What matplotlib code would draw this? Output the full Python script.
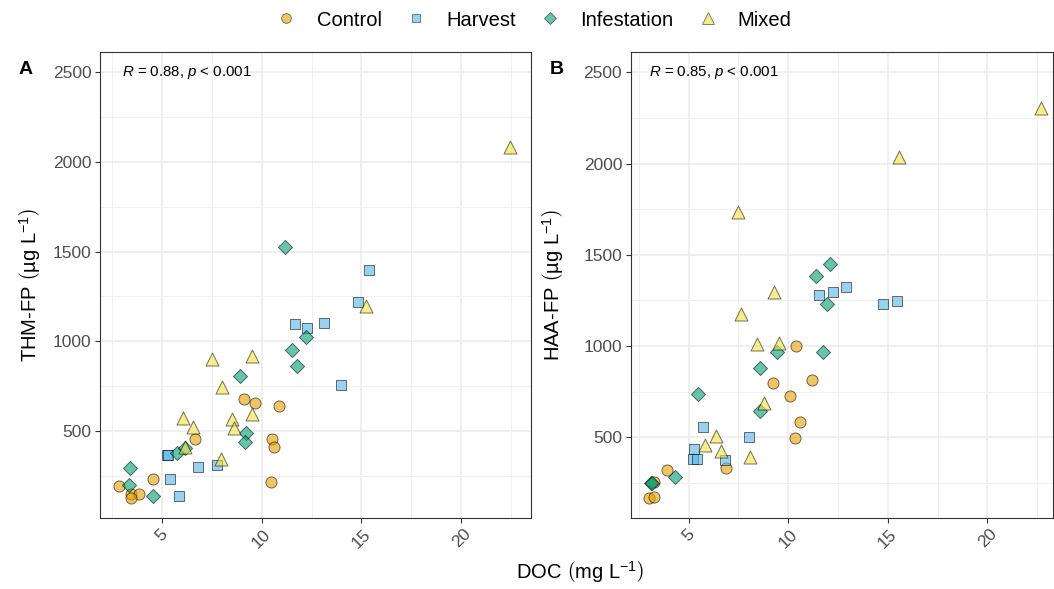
import numpy as np
import matplotlib
matplotlib.use("Agg")
import matplotlib.pyplot as plt
from matplotlib.ticker import MultipleLocator
from matplotlib.lines import Line2D

plt.rcParams['font.family'] = ['Liberation Sans', 'DejaVu Sans']
plt.rcParams['mathtext.fontset'] = 'custom'
plt.rcParams['mathtext.rm'] = 'Liberation Sans'
plt.rcParams['mathtext.it'] = 'Liberation Sans:italic'

# ---------------- data ----------------
groups = ["Control", "Harvest", "Infestation", "Mixed"]
colors = {"Control": "#E69F00", "Harvest": "#56B4E9",
          "Infestation": "#009E73", "Mixed": "#F0E442"}
markers = {"Control": "o", "Harvest": "s", "Infestation": "D", "Mixed": "^"}
sizes = {"Control": 64, "Harvest": 50, "Infestation": 52, "Mixed": 88}

# panel A: DOC vs THM-FP
thm_doc = {
    "Control": [9.10, 9.68, 10.86, 6.68, 10.53, 10.60, 10.46, 4.55, 2.89, 3.45, 3.89, 3.45],
    "Harvest": [15.40, 14.85, 11.68, 12.29, 13.15, 14.00, 5.26, 5.32, 6.81, 7.76, 5.40, 5.85],
    "Infestation": [11.16, 12.24, 11.54, 11.76, 8.92, 9.20, 9.15, 5.78, 6.18, 3.40, 3.35, 4.58],
    "Mixed": [22.44, 15.21, 7.54, 9.50, 8.02, 6.05, 6.58, 8.54, 8.62, 9.51, 6.16, 7.96],
}
thm_val = {
    "Control": [679, 657, 640, 454, 454, 413, 214, 231, 196, 149, 149, 125],
    "Harvest": [1396, 1219, 1096, 1074, 1103, 757, 367, 365, 301, 308, 231, 140],
    "Infestation": [1524, 1025, 950, 863, 804, 491, 441, 376, 404, 296, 200, 135],
    "Mixed": [2082, 1197, 900, 919, 748, 571, 525, 566, 519, 595, 410, 345],
}

# panel B: DOC vs HAA-FP
haa_doc = {
    "Control": [10.39, 9.24, 11.18, 10.10, 10.60, 10.35, 6.89, 3.93, 3.26, 3.03, 3.26],
    "Harvest": [11.55, 12.23, 12.89, 14.74, 15.45, 5.72, 8.03, 5.27, 5.23, 5.43, 6.82],
    "Infestation": [12.10, 11.40, 11.97, 9.42, 11.75, 8.58, 5.45, 8.60, 4.30, 3.09, 3.15],
    "Mixed": [22.70, 15.55, 7.50, 9.30, 7.61, 8.43, 9.52, 8.77, 6.37, 5.80, 6.61, 8.10],
}
haa_val = {
    "Control": [1002, 799, 814, 726, 585, 498, 334, 319, 255, 166, 173],
    "Harvest": [1281, 1294, 1321, 1230, 1246, 555, 502, 438, 381, 383, 374],
    "Infestation": [1452, 1384, 1229, 970, 966, 882, 738, 645, 282, 248, 252],
    "Mixed": [2303, 2038, 1733, 1296, 1174, 1011, 1019, 690, 508, 458, 427, 391],
}

stats = ["$\\it{R}$ = 0.88, $\\it{p}$ < 0.001", "$\\it{R}$ = 0.85, $\\it{p}$ < 0.001"]
ylabels = ["THM-FP $\\left(\\mathrm{µg\\ L^{-1}}\\right)$",
           "HAA-FP $\\left(\\mathrm{µg\\ L^{-1}}\\right)$"]
xlabel = "DOC $\\left(\\mathrm{mg\\ L^{-1}}\\right)$"
panel_tags = ["A", "B"]


def rgba(hexc, a):
    c = matplotlib.colors.to_rgba(hexc)
    return (c[0], c[1], c[2], a)


W, H = 1054, 589
fig = plt.figure(figsize=(W / 100, H / 100), dpi=100)

axA = fig.add_axes([100 / W, 1 - 518 / H, 431 / W, 466 / H])
axB = fig.add_axes([630.5 / W, 1 - 518 / H, 422.5 / W, 466 / H])

panels = [
    (axA, thm_doc, thm_val, (1.92, 23.48), (15, 2613), (30 - 100) / 431),
    (axB, haa_doc, haa_val, (2.08, 23.3), (58, 2611), (553 - 630.5) / 422.5),
]

for i, (ax, xs, ys, xl, yl, labx) in enumerate(panels):
    for g in groups:
        ax.scatter(xs[g], ys[g], s=sizes[g], marker=markers[g],
                   facecolor=rgba(colors[g], 0.6), edgecolor=(0, 0, 0, 0.55),
                   linewidth=0.7, zorder=3)
    ax.set_xlim(*xl)
    ax.set_ylim(*yl)
    ax.xaxis.set_major_locator(MultipleLocator(5))
    ax.xaxis.set_minor_locator(MultipleLocator(2.5))
    ax.yaxis.set_major_locator(MultipleLocator(500))
    ax.yaxis.set_minor_locator(MultipleLocator(250))
    ax.set_yticks([500, 1000, 1500, 2000, 2500])
    ax.grid(which='major', color='#EBEBEB', linewidth=1.1, zorder=0)
    ax.grid(which='minor', color='#F0F0F0', linewidth=0.7, zorder=0)
    ax.set_axisbelow(True)
    for sp in ax.spines.values():
        sp.set_color('#333333')
        sp.set_linewidth(0.8)
    ax.tick_params(which='major', length=3.5, width=0.8, color='#333333',
                   labelsize=12.5, labelcolor='#4D4D4D', pad=2.5)
    ax.tick_params(which='minor', length=0)
    for lab in ax.get_xticklabels():
        lab.set_rotation(45)
        lab.set_ha('center')
        lab.set_va('top')
    ax.set_ylabel(ylabels[i], fontsize=14.5, va='center', ha='center')
    ax.yaxis.set_label_coords(labx, 0.5)
    ax.text(3.0, 2500, stats[i], fontsize=10.8, ha='left', va='center')

fig.text(26 / W, 1 - 70 / H, panel_tags[0], fontsize=14, fontweight='bold', ha='center', va='center')
fig.text(557 / W, 1 - 70 / H, panel_tags[1], fontsize=14, fontweight='bold', ha='center', va='center')

fig.text(580 / W, 1 - 572 / H, xlabel, fontsize=14.5, ha='center', va='center')

handles = [Line2D([], [], linestyle='none', marker=markers[g],
                  markersize={"Control": 7, "Harvest": 6, "Infestation": 6, "Mixed": 8}[g],
                  markerfacecolor=rgba(colors[g], 0.6), markeredgecolor=(0, 0, 0, 0.55),
                  markeredgewidth=0.6) for g in groups]
fig.legend(handles, groups, loc='center', bbox_to_anchor=(534 / W, 1 - 20 / H), ncol=4,
           frameon=False, fontsize=14.5, handletextpad=1.0, columnspacing=1.2,
           handlelength=1.0)

fig.savefig("out.png", dpi=100)
